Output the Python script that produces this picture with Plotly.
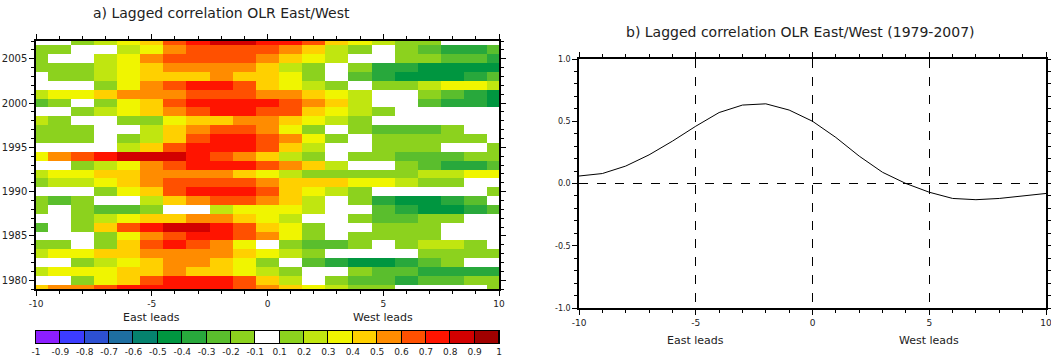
import numpy as np
import plotly.graph_objects as go

# ---------------- data ----------------
lags = list(range(-10, 11))
years = list(range(1979, 2008))

# lagged correlation per year (rows 1979..2007), lags -10..10
corr = [
    [.45,.55,.55,.65,.75,.75,.75,.75,.75,.65,.55,.45,.35,.25,.15,.15,0,0,0,0,.15],            # 1979
    [0,0,.15,.35,.45,.65,.75,.75,.75,.65,.45,.25,0,-.15,-.25,-.25,-.35,-.25,-.25,-.15,-.15],   # 1980
    [.25,.35,.35,.35,.45,.45,.55,.45,.45,.35,.25,.15,0,0,-.15,-.25,-.25,-.35,-.35,-.35,-.35],  # 1981
    [0,0,.15,.25,.35,.45,.55,.55,.45,.35,.15,0,-.25,-.35,-.45,-.45,-.35,-.25,-.15,0,0],        # 1982
    [.25,.35,.35,.45,.45,.55,.55,.55,.55,.45,.35,.25,.15,0,0,0,0,-.15,-.15,-.15,-.15],         # 1983
    [.15,.15,0,.15,.45,.65,.75,.65,.55,.35,0,-.15,-.25,-.25,-.15,0,.15,.25,.25,.15,0],         # 1984
    [0,0,0,.15,.35,.55,.65,.75,.75,.65,.55,.35,.15,0,.15,.15,.15,.15,0,0,0],                   # 1985
    [-.25,0,.15,.45,.65,.75,.85,.85,.75,.65,.45,.35,.15,0,0,.15,.15,.15,0,0,0],                # 1986
    [0,0,.15,.25,.35,.45,.45,.55,.55,.45,.35,.25,0,0,-.15,-.25,-.25,-.15,-.15,0,0],            # 1987
    [-.15,0,-.15,-.25,-.25,-.15,0,0,.25,.35,.35,.35,.25,0,0,-.25,-.35,-.45,-.45,-.35,-.25],    # 1988
    [-.15,-.25,-.15,0,0,.25,.45,.55,.65,.65,.55,.45,.25,0,-.15,-.35,-.45,-.45,-.35,-.25,0],    # 1989
    [0,0,0,.15,.35,.45,.65,.75,.75,.75,.65,.45,.35,.25,.15,0,0,0,0,0,-.15],                    # 1990
    [.15,.25,.25,.35,.45,.55,.65,.65,.65,.65,.55,.45,.45,.45,.35,.35,.25,.15,.15,0,0],         # 1991
    [.25,.35,.35,.45,.45,.55,.55,.55,.55,.45,.35,.25,.15,.15,.15,.15,.15,.25,.25,.35,.35],     # 1992
    [0,0,.15,.25,.35,.55,.65,.75,.75,.75,.65,.55,.45,.25,0,0,-.15,-.25,-.35,-.35,-.25],        # 1993
    [.35,.55,.65,.75,.85,.85,.85,.75,.65,.55,.45,.25,.15,0,-.15,-.15,-.25,-.25,-.25,-.15,-.15],# 1994
    [0,0,0,0,.25,.45,.65,.75,.75,.75,.65,.45,.25,0,0,.15,.15,.15,0,0,.15],                     # 1995
    [.15,.15,.15,0,.15,.25,.45,.65,.75,.75,.65,.55,.35,.15,0,-.15,-.15,-.15,-.15,-.15,0],      # 1996
    [.15,.15,.15,0,0,.25,.45,.55,.65,.65,.55,.35,.15,0,-.15,-.25,-.25,-.25,-.15,0,0],          # 1997
    [.25,.15,0,0,.15,.15,.35,.45,.45,.55,.55,.45,.35,.25,.15,0,0,0,0,0,0],                     # 1998
    [0,0,.15,.25,.35,.45,.55,.65,.75,.75,.65,.65,.45,.35,.25,.15,0,0,0,0,0],                   # 1999
    [-.25,-.15,0,.15,.35,.45,.65,.75,.75,.75,.75,.65,.55,.45,.25,0,0,-.25,-.35,-.35,-.45],     # 2000
    [.25,.35,.35,.45,.55,.55,.55,.65,.65,.65,.55,.55,.45,.35,.25,0,0,-.15,-.25,-.35,-.45],     # 2001
    [0,0,0,.15,.35,.55,.65,.75,.75,.65,.45,.35,.25,.15,0,.15,.15,.25,.35,.35,.25],             # 2002
    [0,.15,.15,.25,.35,.45,.45,.45,.55,.45,.45,.35,.15,0,-.25,-.35,-.45,-.45,-.45,-.35,-.25],  # 2003
    [.15,.15,.15,.25,.35,.45,.55,.55,.55,.55,.45,.25,.15,0,-.15,-.35,-.35,-.45,-.45,-.45,-.45],# 2004
    [.15,0,0,.25,.35,.55,.65,.65,.65,.65,.55,.45,.35,.25,0,0,-.15,-.15,-.25,-.25,-.35],        # 2005
    [.15,.15,0,0,.25,.35,.55,.65,.65,.65,.65,.55,.45,.25,.15,0,-.15,-.25,-.35,-.35,-.25],      # 2006
    [0,0,.15,.25,.35,.45,.65,.75,.85,.85,.75,.75,.65,.45,.35,.25,.15,.15,0,0,0],               # 2007
]

# mean lagged correlation (panel b)
mean_corr = [0.06, 0.08, 0.14, 0.23, 0.34, 0.46, 0.57, 0.63, 0.64, 0.59, 0.50,
             0.37, 0.22, 0.09, 0.00, -0.07, -0.12, -0.13, -0.12, -0.10, -0.08]

lag_ticks = [-10, -5, 0, 5, 10]
lag_tick_labels = ["-10", "-5", "0", "5", "10"]
year_ticks = [1980, 1985, 1990, 1995, 2000, 2005]
corr_ticks = [-1, -0.5, 0, 0.5, 1]
corr_tick_labels = ["-1.0", "-0.5", "0.0", "0.5", "1.0"]

levels = [-1, -0.9, -0.8, -0.7, -0.6, -0.5, -0.4, -0.3, -0.2, -0.1,
          0.1, 0.2, 0.3, 0.4, 0.5, 0.6, 0.7, 0.8, 0.9, 1]
level_labels = ["-1", "-0.9", "-0.8", "-0.7", "-0.6", "-0.5", "-0.4", "-0.3", "-0.2", "-0.1",
                "0.1", "0.2", "0.3", "0.4", "0.5", "0.6", "0.7", "0.8", "0.9", "1"]
bin_colors = ["#8C1EFF", "#3C3CFF", "#2D50D2", "#1E6EA0", "#05826E", "#009640",
              "#28A83C", "#5ABE2D", "#8CD21E", "#FFFFFF", "#8CD21E", "#C0E610",
              "#F0F500", "#FFD000", "#FF8C00", "#FF5000", "#FF1400", "#D20000", "#A00000"]

# ---------------- helpers ----------------
W, H = 1051, 358
def fx(px):
    return px / W
def fy(py):
    return 1 - py / H

nb = len(bin_colors)
cscale = []
for i, c in enumerate(bin_colors):
    cscale.append([i / nb, c])
    cscale.append([(i + 1) / nb, c])

lev = np.array(levels)
z_idx = np.clip(np.searchsorted(lev, np.array(corr) + 1e-9, side="right") - 1, 0, nb - 1)

FONT = "DejaVu Sans"
TXT = "#222222"

fig = go.Figure()

# panel a heatmap
fig.add_trace(go.Heatmap(
    x=lags, y=years, z=z_idx.tolist(), colorscale=cscale, zmin=-0.5, zmax=nb - 0.5,
    showscale=False, xaxis="x", yaxis="y", hoverinfo="skip"))

# label bar (colorbar)
fig.add_trace(go.Heatmap(
    x=list(range(nb)), y=[0], z=[list(range(nb))], colorscale=cscale,
    zmin=-0.5, zmax=nb - 0.5, showscale=False, xgap=1,
    xaxis="x3", yaxis="y3", hoverinfo="skip"))

# panel b line
fig.add_trace(go.Scatter(
    x=lags, y=mean_corr, mode="lines", line=dict(color="black", width=1),
    xaxis="x2", yaxis="y2", hoverinfo="skip"))

axis_common = dict(showline=True, linecolor="black", linewidth=1.5, mirror="ticks",
                   ticks="outside", tickcolor="black", zeroline=False, showgrid=False,
                   ticklabeloverflow="allow",
                   tickfont=dict(family=FONT, size=10, color=TXT))

fig.update_layout(
    width=W, height=H,
    margin=dict(l=0, r=0, t=0, b=0, autoexpand=False),
    paper_bgcolor="white", plot_bgcolor="white",
    showlegend=False,
    xaxis=dict(axis_common, domain=[fx(36), fx(499)], anchor="y", range=[-10, 10],
               tickvals=lag_ticks, ticktext=lag_tick_labels, ticklen=5,
               minor=dict(dtick=1, ticks="outside", ticklen=3, tickcolor="black"),
               tickfont=dict(family=FONT, size=9, color=TXT)),
    yaxis=dict(axis_common, domain=[fy(289), fy(41)], anchor="x", range=[1979, 2007],
               tickvals=year_ticks, ticklen=5,
               minor=dict(dtick=1, ticks="outside", ticklen=3, tickcolor="black")),
    xaxis2=dict(axis_common, domain=[fx(579), fx(1046)], anchor="y2", range=[-10, 10],
                tickvals=lag_ticks, ticktext=lag_tick_labels, ticklen=5,
                showgrid=True, gridcolor="black", gridwidth=1, griddash="dash",
                minor=dict(dtick=1, ticks="outside", ticklen=3, tickcolor="black"),
                tickfont=dict(family=FONT, size=9, color=TXT)),
    yaxis2=dict(axis_common, domain=[fy(308), fy(59)], anchor="x2", range=[-1, 1],
                tickvals=corr_ticks, ticktext=corr_tick_labels, ticklen=5,
                minor=dict(dtick=0.1, ticks="outside", ticklen=3, tickcolor="black"),
                tickfont=dict(family=FONT, size=8, color=TXT)),
    xaxis3=dict(domain=[fx(36), fx(499)], anchor="y3", range=[-0.5, nb - 0.5],
                showline=True, linecolor="black", linewidth=1, mirror=True,
                tickvals=[i - 0.5 for i in range(nb + 1)], ticktext=level_labels,
                ticks="", showgrid=False, zeroline=False, ticklabeloverflow="allow",
                tickfont=dict(family=FONT, size=9, color=TXT)),
    yaxis3=dict(domain=[fy(343), fy(331)], anchor="x3", range=[-0.5, 0.5],
                showline=True, linecolor="black", linewidth=1, mirror=True,
                showticklabels=False, ticks="", showgrid=False, zeroline=False),
)

# black separators behind label bar
fig.add_shape(type="rect", xref="x3 domain", yref="y3 domain", x0=0, x1=1, y0=0, y1=1,
              fillcolor="black", line=dict(width=0), layer="below")
# zero reference line in panel b
fig.add_shape(type="line", xref="x2 domain", yref="y2", x0=0, x1=1, y0=0, y1=0,
              line=dict(color="black", width=1, dash="dash"), layer="below")

ann = []
ann.append(dict(text="a) Lagged correlation OLR East/West", xref="paper", yref="paper",
                x=fx(221), y=fy(13), xanchor="center", yanchor="middle", showarrow=False,
                font=dict(family=FONT, size=14, color=TXT)))
ann.append(dict(text="b) Lagged correlation OLR East/West (1979-2007)", xref="paper", yref="paper",
                x=fx(800), y=fy(32), xanchor="center", yanchor="middle", showarrow=False,
                font=dict(family=FONT, size=14, color=TXT)))
for xr, yy in (("x", 317), ("x2", 340)):
    ann.append(dict(text="East leads", xref=xr, yref="paper", x=-5, y=fy(yy),
                    xanchor="center", yanchor="middle",
                    showarrow=False, font=dict(family=FONT, size=11, color=TXT)))
    ann.append(dict(text="West leads", xref=xr, yref="paper", x=5, y=fy(yy),
                    xanchor="center", yanchor="middle",
                    showarrow=False, font=dict(family=FONT, size=11, color=TXT)))
fig.update_layout(annotations=ann)

fig.write_html("out.html", config={"displayModeBar": False},
               post_script="document.body.style.margin='0';document.body.style.overflow='hidden';")
